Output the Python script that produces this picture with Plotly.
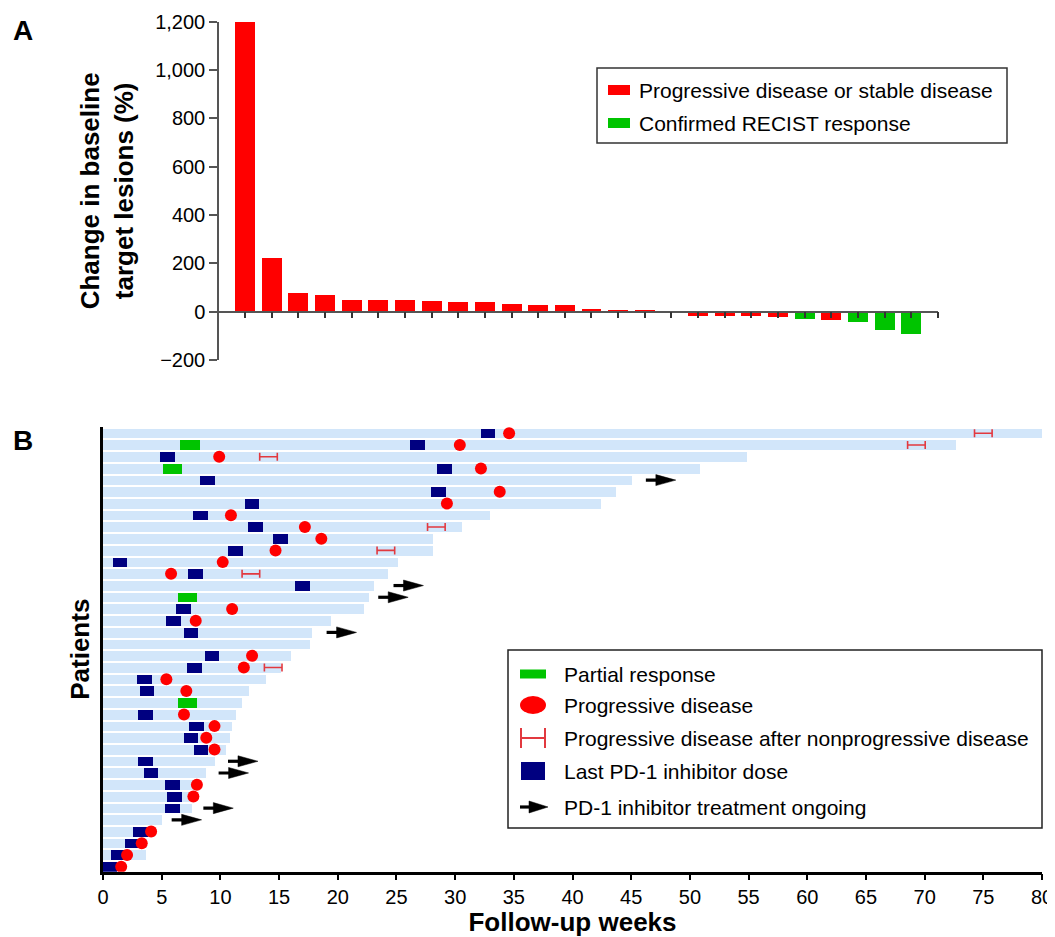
import plotly.graph_objects as go

# page body margin of the browser (8 px) is compensated for
PAGE_OFF = 8
W, H = 1055 - PAGE_OFF, 937 - PAGE_OFF

# ---------------- Panel A data ----------------
a_values = [1200, 225, 80, 69, 51, 51, 48, 44, 42, 40, 32, 29, 29, 11, 8, 6,
            -6, -15, -17, -17, -19, -28, -35, -40, -76, -90]
a_response = ["PD/SD"] * 21 + ["RECIST", "PD/SD", "RECIST", "RECIST", "RECIST"]
a_ytickvals = [-200, 0, 200, 400, 600, 800, 1000, 1200]
a_yticktext = ["\u2212200", "0", "200", "400", "600", "800", "1,000", "1,200"]
a_legend = ["Progressive disease or stable disease", "Confirmed RECIST response"]

# ---------------- Panel B data (patients, top to bottom) ----------------
b_followup = [80.0, 72.7, 54.9, 50.9, 45.1, 43.7, 42.4, 33.0, 30.6, 28.1,
              28.1, 25.1, 24.3, 23.1, 22.7, 22.2, 19.4, 17.8, 17.6, 16.0,
              15.2, 13.9, 12.4, 11.8, 11.3, 11.0, 10.8, 10.5, 9.5, 8.8,
              8.2, 7.8, 7.6, 5.0, 4.4, 3.75, 3.7, 1.6]
b_last_dose = [32.8, 26.8, 5.5, 29.1, 8.9, 28.6, 12.7, 8.3, 13.0, 15.1,
               11.3, 1.45, 7.9, 17.0, None, 6.85, 6.0, 7.5, None, 9.3,
               7.8, 3.55, 3.75, None, 3.6, 7.95, 7.5, 8.35, 3.6, 4.1,
               5.9, 6.1, 5.9, None, 3.2, 2.5, 1.3, 0.6]
b_progression = [34.6, 30.4, 9.9, 32.2, None, 33.8, 29.3, 10.9, 17.2, 18.6,
                 14.7, 10.2, 5.8, None, None, 11.0, 7.9, None, None, 12.7,
                 12.0, 5.4, 7.1, None, 6.9, 9.5, 8.8, 9.5, None, None,
                 8.0, 7.7, None, None, 4.1, 3.3, 2.05, 1.55]
b_partial_response = [None, 7.4, None, 5.9, None, None, None, None, None, None,
                      None, None, None, None, 7.2, None, None, None, None, None,
                      None, None, None, 7.2, None, None, None, None, None, None,
                      None, None, None, None, None, None, None, None]
b_pd_after_nonpd = [75.0, 69.3, 14.1, None, None, None, None, None, 28.4, None,
                    24.1, None, 12.6, None, None, None, None, None, None, None,
                    14.5, None, None, None, None, None, None, None, None, None,
                    None, None, None, None, None, None, None, None]
b_ongoing_tip = [None, None, None, None, 48.8, None, None, None, None, None,
                 None, None, None, 27.3, 26.0, None, None, 21.6, None, None,
                 None, None, None, None, None, None, None, None, 13.2, 12.4,
                 None, None, 11.1, 8.4, None, None, None, None]
b_xtickvals = list(range(0, 81, 5))
b_legend = ["Partial response", "Progressive disease",
            "Progressive disease after nonprogressive disease",
            "Last PD-1 inhibitor dose", "PD-1 inhibitor treatment ongoing"]

# ---------------- styles ----------------
RED = "#ff0000"
GREEN = "#00c400"
NAVY = "#000080"
LIGHT = "#d2e6fa"
HRED = "#e2393f"
FONT = "Liberation Sans, Arial, sans-serif"


def fx(px):
    return (px - PAGE_OFF) / W


def fy(py):
    return 1 - (py - PAGE_OFF) / H


n_rows = len(b_followup)
rows_y = [n_rows - i for i in range(n_rows)]


def pick(vals):
    ys, xs = [], []
    for yv, xv in zip(rows_y, vals):
        if xv is not None:
            ys.append(yv)
            xs.append(xv)
    return ys, xs


fig = go.Figure()

# ---- Panel A bars ----
red_x = [k for k, r in enumerate(a_response) if r == "PD/SD"]
green_x = [k for k, r in enumerate(a_response) if r == "RECIST"]
fig.add_trace(go.Bar(x=red_x, y=[a_values[k] for k in red_x], width=0.75,
                     marker=dict(color=RED, line=dict(width=0)),
                     name=a_legend[0], showlegend=False, xaxis="x", yaxis="y"))
fig.add_trace(go.Bar(x=green_x, y=[a_values[k] for k in green_x], width=0.75,
                     marker=dict(color=GREEN, line=dict(width=0)),
                     name=a_legend[1], showlegend=False, xaxis="x", yaxis="y"))

# ---- Panel B swimmer bars ----
BW = 0.84
fig.add_trace(go.Bar(orientation="h", y=rows_y, x=b_followup, base=0, width=BW,
                     marker=dict(color=LIGHT, line=dict(width=0)),
                     name="Follow-up", showlegend=False, xaxis="x2", yaxis="y2"))

gy, gx = pick(b_partial_response)
GW = 1.65
fig.add_trace(go.Bar(orientation="h", y=gy, x=[GW] * len(gx), base=[v - GW / 2 for v in gx],
                     width=BW, marker=dict(color=GREEN, line=dict(width=0)),
                     name=b_legend[0], showlegend=False, xaxis="x2", yaxis="y2"))

sy, sx = pick(b_last_dose)
SW = 1.25
fig.add_trace(go.Bar(orientation="h", y=sy, x=[SW] * len(sx), base=[v - SW / 2 for v in sx],
                     width=BW, marker=dict(color=NAVY, line=dict(width=0)),
                     name=b_legend[3], showlegend=False, xaxis="x2", yaxis="y2"))

py_, px_ = pick(b_progression)
fig.add_trace(go.Scatter(x=px_, y=py_, mode="markers",
                         marker=dict(symbol="circle", size=12, color=RED, line=dict(width=0)),
                         name=b_legend[1], showlegend=False, xaxis="x2", yaxis="y2"))

hy, hx = pick(b_pd_after_nonpd)
fig.add_trace(go.Scatter(x=hx, y=hy, mode="markers",
                         marker=dict(size=2, color=HRED, opacity=0),
                         error_x=dict(type="data", array=[0.75] * len(hx), symmetric=True,
                                      color=HRED, thickness=1.6, width=4),
                         name=b_legend[2], showlegend=False, xaxis="x2", yaxis="y2"))

ay, ax = pick(b_ongoing_tip)
SHAFT_LEN, HEAD_LEN, HEAD_H = 2.55, 1.7, 0.47
shaft_x, shaft_y, head_x, head_y = [], [], [], []
for yv, tip in zip(ay, ax):
    shaft_x += [tip - SHAFT_LEN, tip - HEAD_LEN + 0.2, None]
    shaft_y += [yv, yv, None]
    head_x += [tip, tip - HEAD_LEN, tip - HEAD_LEN, tip, None]
    head_y += [yv, yv + HEAD_H, yv - HEAD_H, yv, None]
fig.add_trace(go.Scatter(x=shaft_x, y=shaft_y, mode="lines",
                         line=dict(color="black", width=3.2),
                         name=b_legend[4], showlegend=False, xaxis="x2", yaxis="y2"))
fig.add_trace(go.Scatter(x=head_x, y=head_y, mode="lines", fill="toself",
                         fillcolor="black", line=dict(color="black", width=0.5),
                         name=b_legend[4], showlegend=False, xaxis="x2", yaxis="y2"))

# ---------------- axes ----------------
a_xdom = [fx(219), fx(938)]
a_ydom = [fy(360), fy(21.7)]
a_yrange = [-200, 1200]
zero_pos = a_ydom[0] + (0 - a_yrange[0]) / (a_yrange[1] - a_yrange[0]) * (a_ydom[1] - a_ydom[0])

b_xdom = [fx(103), fx(1042)]
b_ydom = [fy(871.7), fy(426.7)]

fig.update_layout(
    width=W, height=H, autosize=False,
    margin=dict(l=0, r=0, t=0, b=0),
    paper_bgcolor="white", plot_bgcolor="white",
    barmode="overlay", bargap=0,
    font=dict(family=FONT, color="black", size=20),
    xaxis=dict(domain=a_xdom, range=[-0.975, len(a_values)], anchor="free",
               position=zero_pos, tickvals=list(range(len(a_values) + 1)),
               showticklabels=False, ticks="outside", ticklen=6, tickwidth=1.5,
               tickcolor="#333", showline=True, linecolor="#555", linewidth=1.5,
               showgrid=False, zeroline=False, automargin=False),
    yaxis=dict(domain=a_ydom, range=a_yrange, tickvals=a_ytickvals, ticktext=a_yticktext,
               ticks="outside", ticklen=8, tickwidth=1.5, tickcolor="#555",
               showline=True, linecolor="#555", linewidth=1.5, showgrid=False,
               zeroline=False, automargin=False, anchor="x",
               tickfont=dict(size=20, family=FONT),
               title=dict(text="Change in baseline<br>target lesions (%)",
                          font=dict(size=26, family=FONT, weight="bold"), standoff=14)),
    xaxis2=dict(domain=b_xdom, range=[0, 80], tickvals=b_xtickvals, anchor="y2",
                ticks="outside", ticklen=6, tickwidth=1.5, tickcolor="black",
                showline=True, linecolor="black", linewidth=2.5, showgrid=False,
                zeroline=False, automargin=False, tickfont=dict(size=20, family=FONT),
                title=dict(text="Follow-up weeks",
                           font=dict(size=26, family=FONT, weight="bold"), standoff=8)),
    yaxis2=dict(domain=b_ydom, range=[0.573, 38.56], anchor="x2",
                showticklabels=False, ticks="", showline=True, linecolor="black",
                linewidth=2.5, showgrid=False, zeroline=False, automargin=False,
                title=dict(text="Patients", font=dict(size=26, family=FONT, weight="bold"),
                           standoff=4)),
)

shapes = []
annotations = []

# panel labels
annotations.append(dict(x=fx(23), y=fy(30), xref="paper", yref="paper", text="<b>A</b>",
                        showarrow=False, font=dict(size=28, family=FONT),
                        xanchor="center", yanchor="middle"))
annotations.append(dict(x=fx(23), y=fy(441), xref="paper", yref="paper", text="<b>B</b>",
                        showarrow=False, font=dict(size=28, family=FONT),
                        xanchor="center", yanchor="middle"))

# ---- legend A (drawn) ----
shapes.append(dict(type="rect", xref="paper", yref="paper", x0=fx(597), x1=fx(1007),
                   y0=fy(143), y1=fy(68), line=dict(color="#333", width=1.5),
                   fillcolor="white", layer="above"))
for txt, col, yc in zip(a_legend, [RED, GREEN], [90, 123]):
    shapes.append(dict(type="rect", xref="paper", yref="paper", x0=fx(608), x1=fx(630),
                       y0=fy(yc + 5), y1=fy(yc - 5), line=dict(width=0), fillcolor=col,
                       layer="above"))
    annotations.append(dict(x=fx(637), y=fy(yc), xref="paper", yref="paper", text=txt,
                            showarrow=False, xanchor="left", yanchor="middle",
                            font=dict(size=21, family=FONT)))

# ---- legend B (drawn) ----
shapes.append(dict(type="rect", xref="paper", yref="paper", x0=fx(508), x1=fx(1042),
                   y0=fy(828), y1=fy(650), line=dict(color="#222", width=1.5),
                   fillcolor="white", layer="above"))
ly = [674, 705, 738, 771, 807]
# partial response
shapes.append(dict(type="rect", xref="paper", yref="paper", x0=fx(520), x1=fx(546),
                   y0=fy(ly[0] + 4.5), y1=fy(ly[0] - 4.5), line=dict(width=0),
                   fillcolor=GREEN, layer="above"))
# progressive disease ellipse
shapes.append(dict(type="circle", xref="paper", yref="paper", x0=fx(520), x1=fx(546),
                   y0=fy(ly[1] + 9), y1=fy(ly[1] - 9), line=dict(width=0),
                   fillcolor=RED, layer="above"))
# H symbol
for (x0, y0, x1, y1) in [(520, ly[2], 546, ly[2]), (521, ly[2] - 10, 521, ly[2] + 10),
                         (545, ly[2] - 10, 545, ly[2] + 10)]:
    shapes.append(dict(type="line", xref="paper", yref="paper", x0=fx(x0), x1=fx(x1),
                       y0=fy(y0), y1=fy(y1), line=dict(color=HRED, width=2), layer="above"))
# last dose square
shapes.append(dict(type="rect", xref="paper", yref="paper", x0=fx(521), x1=fx(545),
                   y0=fy(ly[3] + 9), y1=fy(ly[3] - 9), line=dict(width=0),
                   fillcolor=NAVY, layer="above"))
# arrow
shapes.append(dict(type="line", xref="paper", yref="paper", x0=fx(520), x1=fx(532),
                   y0=fy(ly[4]), y1=fy(ly[4]), line=dict(color="black", width=3.2),
                   layer="above"))
shapes.append(dict(type="path", xref="paper", yref="paper",
                   path="M {:.5f} {:.5f} L {:.5f} {:.5f} L {:.5f} {:.5f} Z".format(
                       fx(548), fy(ly[4]), fx(529), fy(ly[4] - 6), fx(529), fy(ly[4] + 6)),
                   fillcolor="black", line=dict(color="black", width=0.5), layer="above"))
for txt, yc in zip(b_legend, ly):
    annotations.append(dict(x=fx(562), y=fy(yc), xref="paper", yref="paper", text=txt,
                            showarrow=False, xanchor="left", yanchor="middle",
                            font=dict(size=21, family=FONT)))

fig.update_layout(shapes=shapes, annotations=annotations)

fig.write_html("out.html")
